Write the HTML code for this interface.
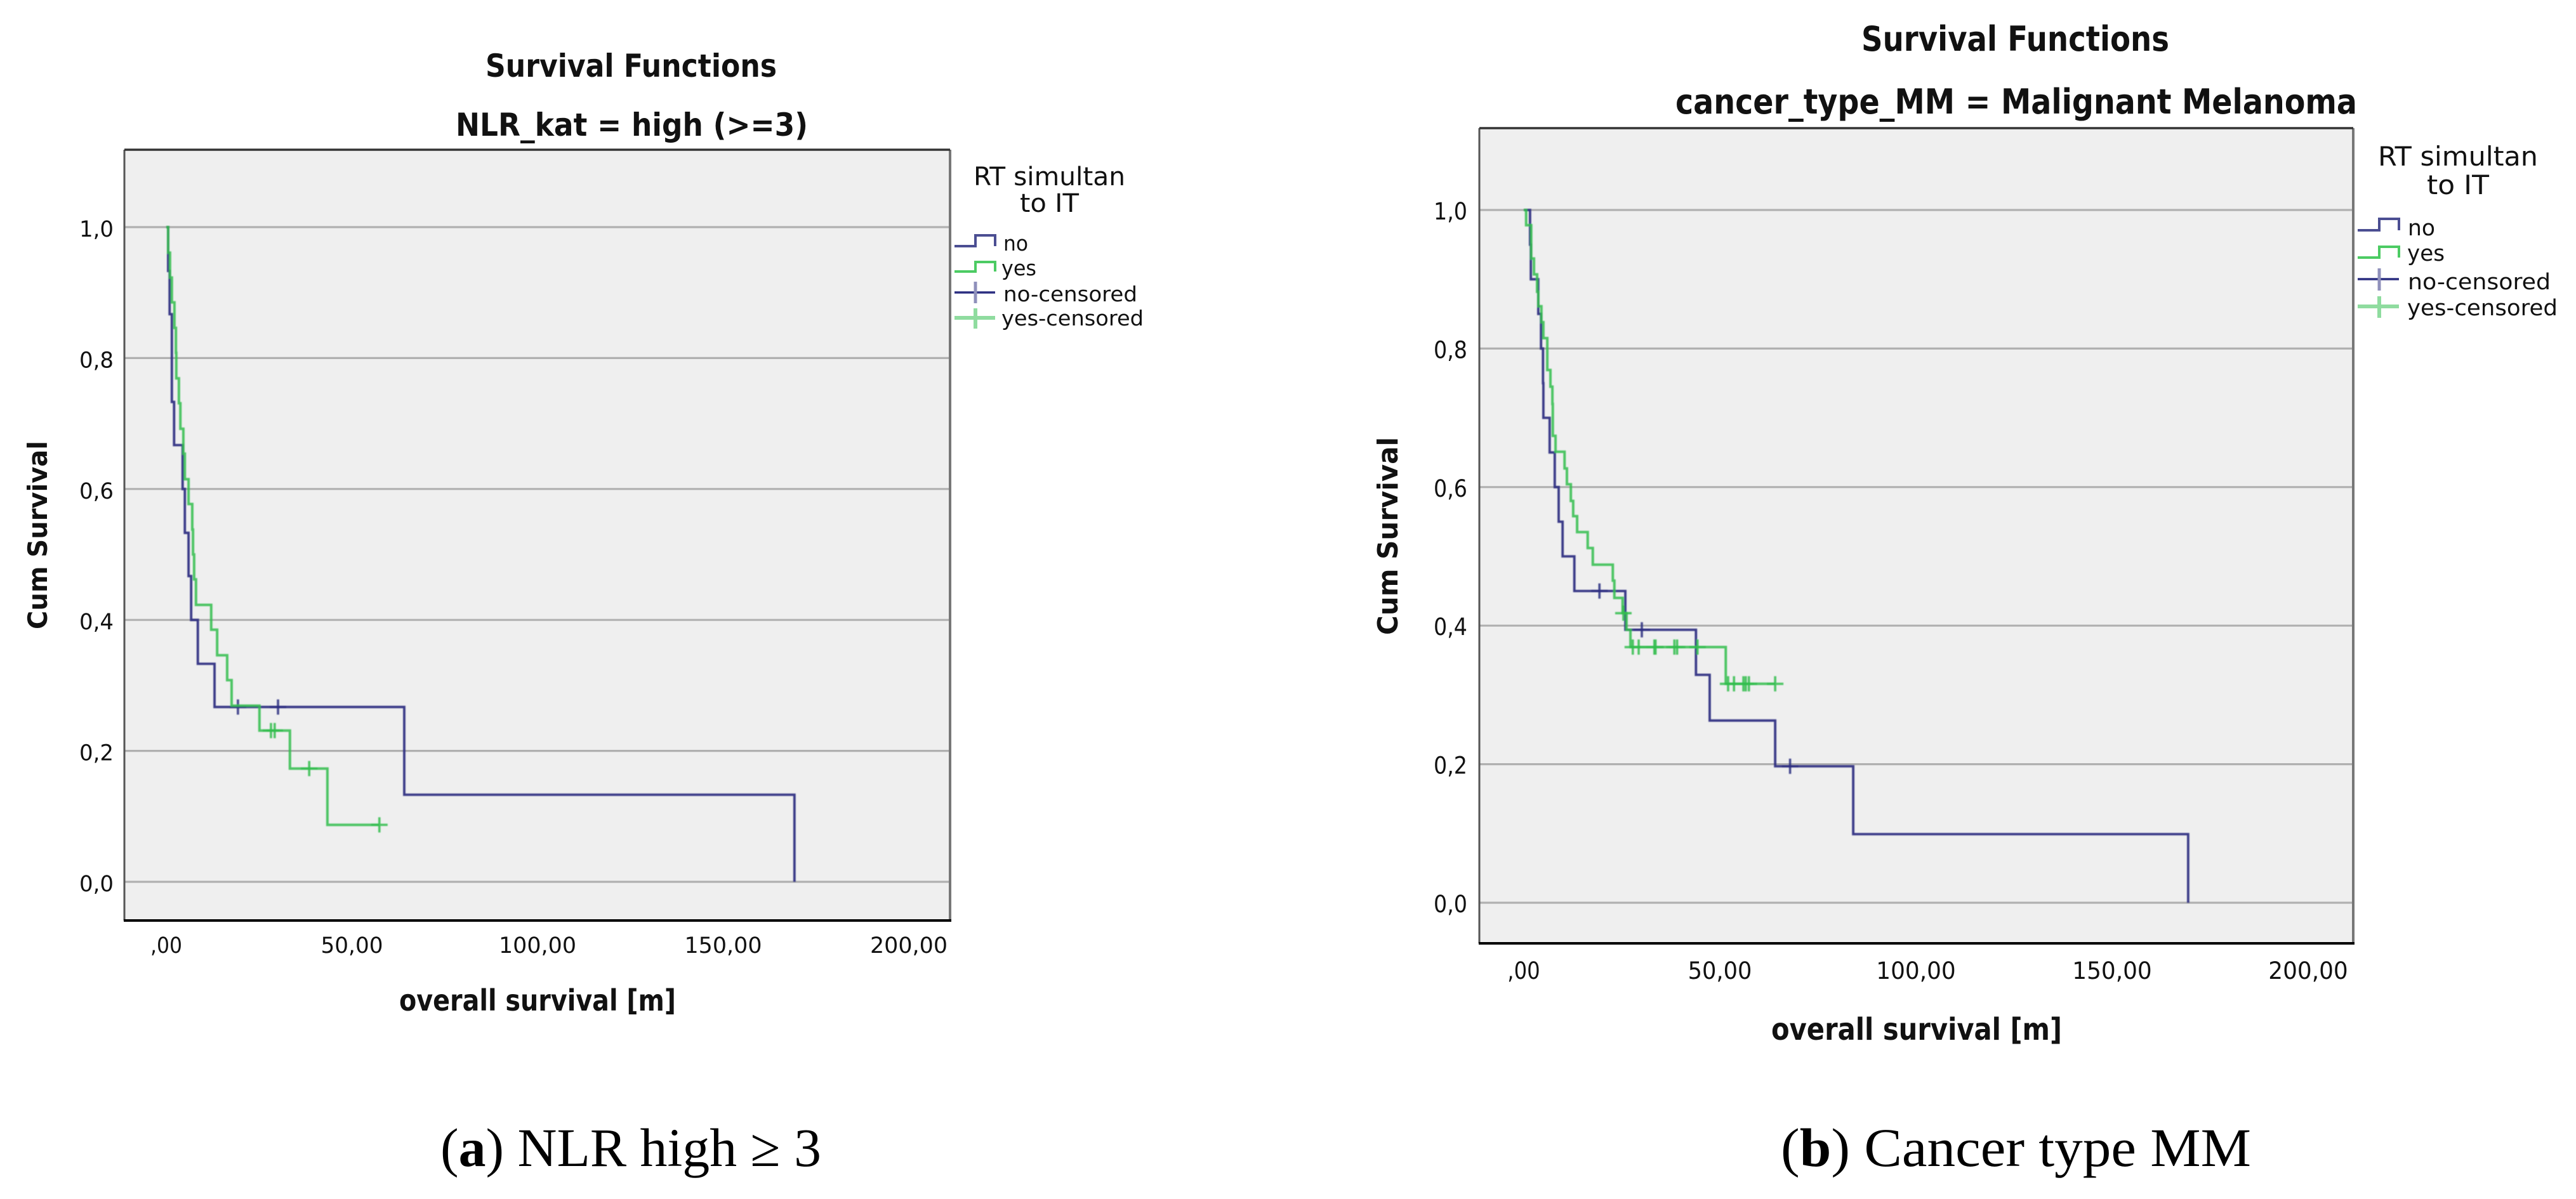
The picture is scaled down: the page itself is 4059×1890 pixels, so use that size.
<!DOCTYPE html>
<html lang="en">
<head>
<meta charset="utf-8">
<title>Survival Functions</title>
<style>
html,body{margin:0;padding:0;background:#fff;}
#figure{display:block;width:4059px;height:1890px;background:#fff;}
.t{font-family:"DejaVu Sans","Liberation Sans",sans-serif;fill:#111;}
.b{font-weight:bold;}
.cap{font-family:"Liberation Serif",serif;fill:#000;font-size:86px;}
</style>
</head>
<body>
<svg id="figure" xmlns="http://www.w3.org/2000/svg" width="4059" height="1890" viewBox="0 0 4059 1890">
<defs><filter id="soft" x="-5%" y="-5%" width="110%" height="110%"><feGaussianBlur stdDeviation="0.7"/></filter></defs>

<g id="panel-a">
  <text class="t b" x="765" y="121" font-size="50" textLength="459" lengthAdjust="spacingAndGlyphs">Survival Functions</text>
  <text class="t b" x="718" y="214" font-size="50" textLength="555" lengthAdjust="spacingAndGlyphs">NLR_kat = high (&gt;=3)</text>
  <text class="t b" transform="translate(74,992) rotate(-90)" font-size="42" textLength="297" lengthAdjust="spacingAndGlyphs">Cum Survival</text>
  <text class="t b" x="629" y="1593" font-size="46" textLength="436" lengthAdjust="spacingAndGlyphs">overall survival [m]</text>
  <g>
    <text class="t" x="1534" y="292" font-size="40" textLength="239" lengthAdjust="spacingAndGlyphs">RT simultan</text>
    <text class="t" x="1607" y="334" font-size="40" textLength="93" lengthAdjust="spacingAndGlyphs">to IT</text>
    <path d="M1504 388H1537V371H1568V388" fill="none" stroke="#4b4e92" stroke-width="4"/>
    <text class="t" x="1581" y="395" font-size="33" textLength="39" lengthAdjust="spacingAndGlyphs">no</text>
    <path d="M1504 428H1537V413H1568V428" fill="none" stroke="#4ccb63" stroke-width="4"/>
    <text class="t" x="1578" y="434" font-size="33" textLength="55" lengthAdjust="spacingAndGlyphs">yes</text>
    <path d="M1504 461H1568" fill="none" stroke="#2a2d80" stroke-width="3.5"/>
    <path d="M1537 444V478" fill="none" stroke="#8f90bb" stroke-width="5"/>
    <text class="t" x="1581" y="475" font-size="33" textLength="211" lengthAdjust="spacingAndGlyphs">no-censored</text>
    <path d="M1504 501H1568M1537 486V518" fill="none" stroke="#8fdc9f" stroke-width="6"/>
    <text class="t" x="1578" y="513" font-size="33" textLength="224" lengthAdjust="spacingAndGlyphs">yes-censored</text>
  </g>
  <text class="cap" x="694" y="1838" textLength="600" lengthAdjust="spacingAndGlyphs">(<tspan font-weight="bold">a</tspan>) NLR high ≥ 3</text>
</g>

<g id="panel-b">
  <text class="t b" x="2933" y="80" font-size="54" textLength="485" lengthAdjust="spacingAndGlyphs">Survival Functions</text>
  <text class="t b" x="2640" y="179" font-size="54" textLength="1074" lengthAdjust="spacingAndGlyphs">cancer_type_MM = Malignant Melanoma</text>
  <text class="t b" transform="translate(2202,1001) rotate(-90)" font-size="44" textLength="312" lengthAdjust="spacingAndGlyphs">Cum Survival</text>
  <text class="t b" x="2791" y="1639" font-size="48" textLength="458" lengthAdjust="spacingAndGlyphs">overall survival [m]</text>
  <g>
    <text class="t" x="3747" y="261" font-size="42" textLength="252" lengthAdjust="spacingAndGlyphs">RT simultan</text>
    <text class="t" x="3824" y="306" font-size="42" textLength="98" lengthAdjust="spacingAndGlyphs">to IT</text>
    <path d="M3715 363H3749V345H3780V363" fill="none" stroke="#4b4e92" stroke-width="4"/>
    <text class="t" x="3794" y="371" font-size="35" textLength="43" lengthAdjust="spacingAndGlyphs">no</text>
    <path d="M3715 406H3749V389H3780V406" fill="none" stroke="#4ccb63" stroke-width="4"/>
    <text class="t" x="3793" y="411" font-size="35" textLength="59" lengthAdjust="spacingAndGlyphs">yes</text>
    <path d="M3715 440H3780" fill="none" stroke="#2a2d80" stroke-width="3.5"/>
    <path d="M3749 423V458" fill="none" stroke="#8f90bb" stroke-width="5"/>
    <text class="t" x="3794" y="456" font-size="35" textLength="225" lengthAdjust="spacingAndGlyphs">no-censored</text>
    <path d="M3715 483H3780M3749 467V501" fill="none" stroke="#8fdc9f" stroke-width="6"/>
    <text class="t" x="3793" y="497" font-size="35" textLength="237" lengthAdjust="spacingAndGlyphs">yes-censored</text>
  </g>
  <text class="cap" x="2806" y="1838" textLength="741" lengthAdjust="spacingAndGlyphs">(<tspan font-weight="bold">b</tspan>) Cancer type MM</text>
</g>
</svg>

<script>
// Shared tick values and labels
const yTickValues = [1, 0.8, 0.6, 0.4, 0.2, 0];
const yTickLabels = ['1,0', '0,8', '0,6', '0,4', '0,2', '0,0'];
const xTickValues = [0, 50, 100, 150, 200];
const xTickLabels = [',00', '50,00', '100,00', '150,00', '200,00'];

// Panel a: NLR high
const aNoTimes = [0.5, 0.9, 1.5, 2.1, 4.4, 5, 6, 6.7, 8.5, 13, 64.1, 169.2];
const aNoSurvival = [0.933, 0.867, 0.733, 0.667, 0.6, 0.533, 0.467, 0.4, 0.333, 0.267, 0.133, 0];
const aYesTimes = [0.5, 1, 1.5, 2.2, 2.6, 2.7, 3.4, 3.8, 4.6, 5, 6, 7, 7.2, 7.5, 8, 12.1, 13.7, 16.4, 17.6, 25.1, 33.3, 43.4];
const aYesSurvival = [0.961, 0.923, 0.885, 0.846, 0.808, 0.769, 0.731, 0.692, 0.654, 0.615, 0.577, 0.538, 0.5, 0.462, 0.423, 0.385, 0.346, 0.308, 0.269, 0.231, 0.173, 0.087];
const aNoCensoredTimes = [19.3, 30.1];
const aYesCensoredTimes = [28.2, 29.2, 38.5, 57.4];

// Panel b: cancer type MM
const bNoTimes = [1.6, 1.8, 3.7, 4.4, 4.9, 5, 6.6, 7.9, 8.9, 9.9, 12.9, 25.9, 43.9, 47.4, 64.1, 84, 169.4];
const bNoSurvival = [0.95, 0.9, 0.85, 0.8, 0.75, 0.7, 0.65, 0.6, 0.55, 0.5, 0.45, 0.394, 0.329, 0.263, 0.197, 0.099, 0];
const bYesTimes = [0.6, 1.9, 2.6, 3.4, 3.7, 4.5, 5, 6, 6.8, 7.3, 7.4, 8.1, 10.4, 11, 12, 12.6, 13.6, 16.3, 17.6, 22.7, 23.1, 25.2, 26.2, 27.2, 51.5];
const bYesSurvival = [0.978, 0.93, 0.907, 0.882, 0.861, 0.838, 0.815, 0.769, 0.745, 0.72, 0.674, 0.651, 0.627, 0.604, 0.58, 0.558, 0.535, 0.512, 0.488, 0.465, 0.44, 0.418, 0.394, 0.369, 0.316];
const bNoCensoredTimes = [19.3, 30.1, 67.9];
const bYesCensoredTimes = [25.4, 27.8, 29.3, 33.3, 33.6, 38.4, 39.1, 44.3, 52.1, 53.6, 56, 56.6, 57.4, 64.1];

const NS = 'http://www.w3.org/2000/svg';
const NO_COLOR = '#2a2d80';
const YES_COLOR = '#33bd4e';

function make(tag, parent, attrs) {
  const el = document.createElementNS(NS, tag);
  for (const k in attrs) el.setAttribute(k, attrs[k]);
  parent.appendChild(el);
  return el;
}

function stepPath(times, survival, censored, xAxis, yAxis) {
  let d = 'M' + xAxis(0) + ' ' + yAxis(1);
  for (let i = 0; i < times.length; i++) {
    d += 'H' + xAxis(times[i]) + 'V' + yAxis(survival[i]);
  }
  const lastEvent = times[times.length - 1];
  const lastCensor = Math.max.apply(null, censored);
  if (lastCensor > lastEvent) d += 'H' + xAxis(lastCensor);
  return d;
}

function survivalAt(t, times, survival) {
  let s = 1;
  for (let i = 0; i < times.length; i++) {
    if (times[i] <= t) s = survival[i];
  }
  return s;
}

function drawPanel(rootId, p, noT, noS, yesT, yesS, noC, yesC) {
  const root = document.getElementById(rootId);
  const xAxis = t => p.x0 + p.xPerUnit * t;
  const yAxis = v => p.y0 - p.yPerUnit * v;
  const first = root.firstElementChild;

  const plot = document.createElementNS(NS, 'g');
  
  
  root.insertBefore(plot, first);

  const bg = make('rect', plot, {x: p.left, y: p.top, width: p.right - p.left, height: p.bottom - p.top, fill: '#efefef'});
  
  

  yTickValues.forEach((v, i) => {
    const g = make('line', plot, {x1: p.left, x2: p.right, y1: yAxis(v), y2: yAxis(v), stroke: '#b0b0b0', 'stroke-width': 3.2});
    
    
    const lab = make('text', plot, {class: 't', x: p.yLabelRight, y: yAxis(v) + 15, 'font-size': p.tickSize, 'text-anchor': 'end', textLength: p.yLabelWidth, lengthAdjust: 'spacingAndGlyphs'});
    
    
    lab.textContent = yTickLabels[i];
  });

  xTickValues.forEach((v, i) => {
    const label = xTickLabels[i];
    const digits = label.length - 1;
    const lab = make('text', plot, {class: 't', x: xAxis(v), y: p.xLabelY, 'font-size': p.tickSize, 'text-anchor': 'middle', textLength: digits * p.digitWidth + 2, lengthAdjust: 'spacingAndGlyphs'});
    
    
    lab.textContent = label;
  });

  const series = make('g', plot, {filter: 'url(#soft)'});
  
  

  const noLine = make('path', series, {d: stepPath(noT, noS, noC, xAxis, yAxis), fill: 'none', stroke: NO_COLOR, 'stroke-width': 3.8, opacity: 0.92});
  
  

  noC.forEach(t => {
    const y = yAxis(survivalAt(t, noT, noS));
    const c = make('path', series, {d: 'M' + (xAxis(t) - 13) + ' ' + y + 'h26M' + xAxis(t) + ' ' + (y - 12) + 'v24', fill: 'none', stroke: NO_COLOR, 'stroke-width': 3.6, opacity: 0.85});
    
    
  });

  const yesLine = make('path', series, {d: stepPath(yesT, yesS, yesC, xAxis, yAxis), fill: 'none', stroke: YES_COLOR, 'stroke-width': 4, opacity: 0.85});
  
  

  yesC.forEach(t => {
    const y = yAxis(survivalAt(t, yesT, yesS));
    const c = make('path', series, {d: 'M' + (xAxis(t) - 13) + ' ' + y + 'h26M' + xAxis(t) + ' ' + (y - 12) + 'v24', fill: 'none', stroke: YES_COLOR, 'stroke-width': 3.6, opacity: 0.85});
    
    
  });

  const frameLeft = make('line', plot, {x1: p.left, x2: p.left, y1: p.top, y2: p.bottom, stroke: '#555', 'stroke-width': 3});
  
  
  const frameRight = make('line', plot, {x1: p.right, x2: p.right, y1: p.top, y2: p.bottom, stroke: '#777', 'stroke-width': 4});
  
  
  const frameTop = make('line', plot, {x1: p.left, x2: p.right, y1: p.top, y2: p.top, stroke: '#333', 'stroke-width': 3.5});
  
  
  const xAxisLine = make('line', plot, {x1: p.left - 1, x2: p.right + 2, y1: p.bottom, y2: p.bottom, stroke: '#000', 'stroke-width': 4});
  
  
}

drawPanel('panel-a',
  {x0: 262, xPerUnit: 5.85, y0: 1390, yPerUnit: 1032, left: 196, right: 1497, top: 236, bottom: 1451, yLabelRight: 179, yLabelWidth: 54, xLabelY: 1502, digitWidth: 24, tickSize: 35},
  aNoTimes, aNoSurvival, aYesTimes, aYesSurvival, aNoCensoredTimes, aYesCensoredTimes);

drawPanel('panel-b',
  {x0: 2401, xPerUnit: 6.18, y0: 1423, yPerUnit: 1092, left: 2331, right: 3708, top: 202, bottom: 1487, yLabelRight: 2312, yLabelWidth: 53, xLabelY: 1543, digitWidth: 24.7, tickSize: 37},
  bNoTimes, bNoSurvival, bYesTimes, bYesSurvival, bNoCensoredTimes, bYesCensoredTimes);
</script>
</body>
</html>
